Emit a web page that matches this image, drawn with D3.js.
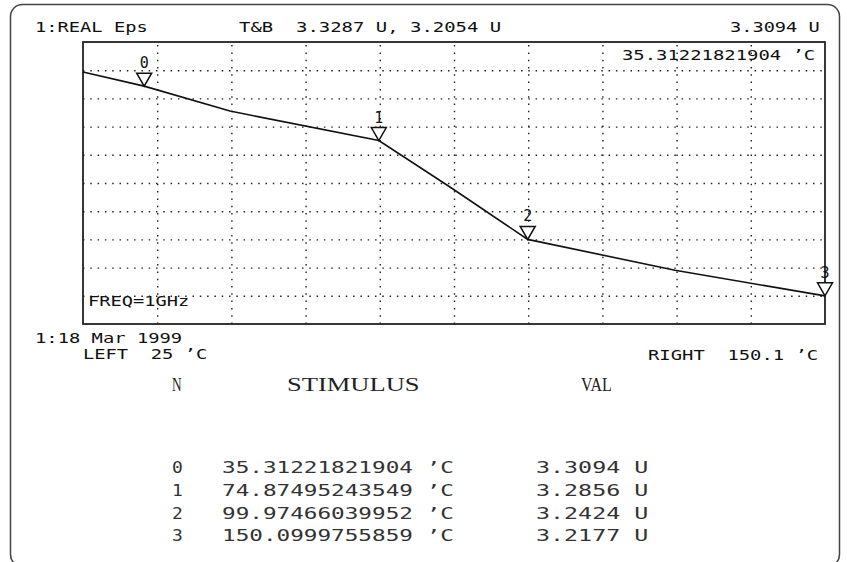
<!DOCTYPE html>
<html>
<head>
<meta charset="utf-8">
<script src="https://cdn.jsdelivr.net/npm/d3@7"></script>
<style>
  body { margin: 0; background: #fff; }
  svg { display: block; }
  text { white-space: pre; }
  .pix { font-family: "DejaVu Sans Mono", monospace; fill: #111; }
  .tbl { font-family: "DejaVu Sans Mono", monospace; fill: #333; }
  .hdr { font-family: "Liberation Serif", serif; fill: #222; }
  .grid line { stroke: #222; stroke-width: 1.4; stroke-dasharray: 1.5 5.8; }
  .grid .domain { display: none; }
  .grid text { display: none; }
</style>
</head>
<body>
<div class="screen"></div>
<script>
// trace + marker data
const traceTemp = [25, 35.31221821904, 49.78, 74.87495243549, 86.87, 99.97466039952, 124.81, 150.0999755859];
const traceVal  = [3.3156, 3.3094, 3.2985, 3.2856, 3.2653, 3.2424, 3.2289, 3.2177];

const markerN    = [0, 1, 2, 3];
const markerTemp = [35.31221821904, 74.87495243549, 99.97466039952, 150.0999755859];
const markerVal  = [3.3094, 3.2856, 3.2424, 3.2177];

const stimRange = [25, 150.1];       // LEFT / RIGHT
const valRange  = [3.2054, 3.3287];  // bottom / top (T&B)
const divisions = 10;

const W = 847, H = 562;
const plot = {left: 83, right: 825, top: 42, bottom: 324};

const svg = d3.select('.screen').append('svg')
    .attr('width', W)
    .attr('height', H);

// outer rounded frame of the screen shot
svg.append('rect')
    .attr('x', 10.5).attr('y', 4.5)
    .attr('width', 829).attr('height', 562)
    .attr('rx', 12)
    .attr('fill', 'none')
    .attr('stroke', '#444')
    .attr('stroke-width', 1.5);

// scales
const x = d3.scaleLinear().domain(stimRange).range([plot.left, plot.right]);
const y = d3.scaleLinear().domain(valRange).range([plot.bottom, plot.top]);

const xTicks = d3.range(1, divisions).map(i => stimRange[0] + i * (stimRange[1] - stimRange[0]) / divisions);
const yTicks = d3.range(1, divisions).map(i => valRange[0] + i * (valRange[1] - valRange[0]) / divisions);

// dotted graticule
svg.append('g')
    .attr('class', 'grid')
    .attr('transform', `translate(0,${plot.bottom})`)
    .call(d3.axisBottom(x).tickValues(xTicks).tickSize(-(plot.bottom - plot.top)));

svg.append('g')
    .attr('class', 'grid')
    .attr('transform', `translate(${plot.left},0)`)
    .call(d3.axisLeft(y).tickValues(yTicks).tickSize(-(plot.right - plot.left)));

// plot frame
svg.append('rect')
    .attr('x', plot.left).attr('y', plot.top)
    .attr('width', plot.right - plot.left)
    .attr('height', plot.bottom - plot.top)
    .attr('fill', 'none')
    .attr('stroke', '#222')
    .attr('stroke-width', 1.8);

// trace
const line = d3.line()
    .x(d => x(d[0]))
    .y(d => y(d[1]));

svg.append('path')
    .datum(d3.zip(traceTemp, traceVal))
    .attr('d', line)
    .attr('fill', 'none')
    .attr('stroke', '#111')
    .attr('stroke-width', 1.6);

// markers
const mk = svg.selectAll('.marker')
    .data(markerN)
    .enter()
    .append('g')
    .attr('class', 'marker')
    .attr('transform', i => `translate(${x(markerTemp[i])},${y(markerVal[i])})`);

mk.append('path')
    .attr('d', 'M0,0 L-7.5,-13 L7.5,-13 Z')
    .attr('fill', '#fff')
    .attr('stroke', '#111')
    .attr('stroke-width', 1.5);

mk.append('text')
    .attr('class', 'pix')
    .attr('y', -18)
    .attr('text-anchor', 'middle')
    .attr('font-size', 15)
    .text(i => i);

// instrument-style text, stretched to the wide pixel font
function label(txt, px, py, opts = {}) {
    const adv = opts.adv || 11.5;
    const t = svg.append('text')
        .attr('class', opts.cls || 'pix')
        .attr('x', px).attr('y', py)
        .attr('font-size', opts.size || 14.5)
        .attr('textLength', txt.length * adv - (adv * 0.2))
        .attr('lengthAdjust', 'spacingAndGlyphs')
        .text(txt);
    return t;
}

label('1:REAL Eps', 35, 32);
label(`T&B  ${valRange[1].toFixed(4)} U, ${valRange[0].toFixed(4)} U`, 239, 32);
label(`${markerVal[0].toFixed(4)} U`, 730, 32);
label(`${markerTemp[0]} ’C`, 622, 60);
label('FREQ=1GHz', 88, 306);
label('1:18 Mar 1999', 35, 343);
label(`LEFT  ${stimRange[0]} ’C`, 83, 359);
label(`RIGHT  ${stimRange[1]} ’C`, 648, 360);

// marker table
const colN = 172, colStim = 222, colVal = 536;
label('N', colN, 391, {cls: 'hdr', size: 18, adv: 12});
label('STIMULUS', 287, 391, {cls: 'hdr', size: 18, adv: 17});
label('VAL', 581, 391, {cls: 'hdr', size: 18, adv: 11});

const rowY = d3.scaleBand().domain(markerN).range([462, 553]);
markerN.forEach(i => {
    const yy = rowY(i) + 11;
    label(String(i), colN, yy, {cls: 'tbl', size: 15, adv: 13.5});
    label(`${markerTemp[i]} ’C`, colStim, yy, {cls: 'tbl', size: 15, adv: 13.8});
    label(`${markerVal[i].toFixed(4)} U`, colVal, yy, {cls: 'tbl', size: 15, adv: 14.4});
});
</script>
</body>
</html>
